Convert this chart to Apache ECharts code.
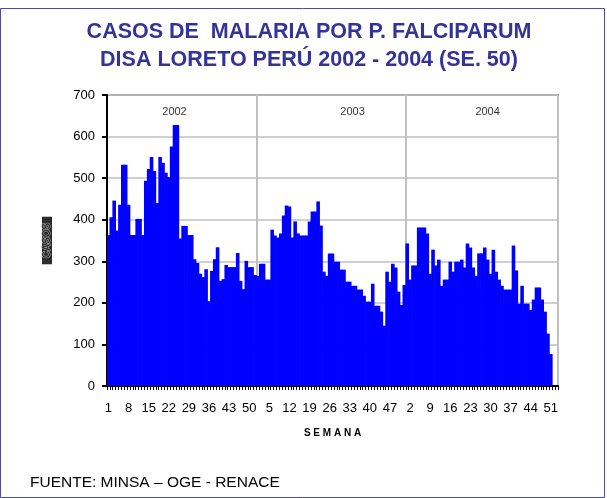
<!DOCTYPE html>
<html>
<head>
<meta charset="utf-8">
<script src="https://cdn.jsdelivr.net/npm/echarts@6/dist/echarts.min.js"></script>
<style>
  html, body { margin: 0; padding: 0; background: #fff; }
  #chart { width: 607px; height: 498px; }
</style>
</head>
<body>
<div id="chart"></div>
<script>
// casos semanales de malaria P. falciparum, DISA Loreto
var years = ["2002", "2003", "2004"];
var weeksInYear = [52, 52, 53];

var cases2002 = [363, 406, 446, 374, 436, 532, 532, 436, 363, 363, 402, 402, 363, 494, 522, 551, 517, 440, 551, 537,
  513, 503, 576, 628, 628, 355, 385, 385, 363, 363, 305, 296, 270, 262, 281, 204, 277, 305, 334, 253,
  257, 291, 286, 286, 286, 320, 253, 233, 301, 286, 286, 267];
var cases2003 = [265, 294, 294, 256, 256, 376, 362, 357, 367, 410, 434, 432, 357, 396, 367, 362, 362, 362, 396, 420,
  420, 444, 386, 275, 265, 319, 319, 299, 299, 280, 280, 251, 251, 241, 241, 232, 232, 217, 203, 203,
  246, 193, 193, 179, 145, 275, 251, 294, 285, 227, 195, 243];
var cases2004 = [343, 256, 290, 290, 381, 381, 381, 367, 270, 328, 290, 304, 241, 256, 256, 299, 275, 299, 299, 304,
  285, 343, 333, 285, 265, 319, 319, 333, 304, 270, 328, 275, 256, 241, 232, 232, 232, 338, 278, 198,
  241, 198, 198, 183, 208, 237, 237, 208, 179, 126, 77];

var yMin = 0, yMax = 700, yStep = 100;

var font = "'Liberation Sans', Arial, sans-serif";

// categorias "año-semana" y valores en orden
var categories = [];
var values = [];
var yearStart = [];
var perYear = [cases2002, cases2003, cases2004];
years.forEach(function (yr, i) {
  yearStart.push(categories.length);
  for (var w = 1; w <= weeksInYear[i]; w++) {
    categories.push(yr + "-" + w);
    var v = perYear[i][w - 1];
    values.push(v === undefined ? null : v);
  }
});

// rotulo de año dentro del area (semana donde se escribe)
var tagWeek = [24, 34, 29];
var yearTags = years.map(function (yr, i) {
  return { name: yr, value: [yearStart[i] + tagWeek[i] - 1, 660] };
});

var chart = echarts.init(document.getElementById("chart"));
chart.setOption({
  backgroundColor: "#fff",
  animation: false,
  title: {
    text: "CASOS DE  MALARIA POR P. FALCIPARUM\nDISA LORETO PERÚ 2002 - 2004 (SE. 50)",
    left: 304,
    top: 13,
    textAlign: "center",
    textStyle: {
      fontFamily: font,
      fontSize: 21.5,
      fontWeight: "bold",
      color: "#333399",
      lineHeight: 28
    }
  },
  grid: {
    left: 107,
    top: 95,
    width: 451,
    height: 291,
    show: true,
    backgroundColor: "#fff",
    borderColor: "#8c8c9c",
    borderWidth: 2
  },
  xAxis: {
    type: "category",
    data: categories,
    boundaryGap: true,
    name: "S E M A N A",
    nameLocation: "middle",
    nameGap: 42,
    nameTextStyle: {
      fontFamily: font,
      fontSize: 10,
      fontWeight: "bold",
      color: "#000"
    },
    axisLine: { lineStyle: { color: "#000", width: 2 } },
    axisTick: {
      show: true,
      interval: 0,
      length: 4,
      lineStyle: { color: "#000", width: 1 }
    },
    axisLabel: {
      interval: 6,
      margin: 16,
      hideOverlap: false,
      fontFamily: font,
      fontSize: 13,
      color: "#000",
      formatter: function (v) {
        return v.split("-")[1];
      }
    },
    splitLine: {
      show: true,
      interval: function (i) {
        return i === yearStart[1] || i === yearStart[2];
      },
      lineStyle: { color: "#c0c0c0", width: 2 }
    }
  },
  yAxis: {
    type: "value",
    min: yMin,
    max: yMax,
    interval: yStep,
    name: "CASOS",
    nameLocation: "middle",
    nameRotate: 90,
    nameGap: 55,
    nameTextStyle: {
      fontFamily: font,
      fontSize: 10,
      fontWeight: "bold",
      color: "#333",
      textBorderColor: "#aaa",
      textBorderWidth: 1,
      backgroundColor: "#2b2b2b",
      padding: [0, 6, 0, 6]
    },
    axisLine: { show: true, lineStyle: { color: "#000", width: 2 } },
    axisTick: { show: true, length: 5, lineStyle: { color: "#000", width: 2 } },
    axisLabel: {
      margin: 12,
      fontFamily: font,
      fontSize: 13,
      color: "#000"
    },
    splitLine: { show: true, lineStyle: { color: "#c0c0c0", width: 1.5 } }
  },
  series: [
    {
      name: "casos",
      type: "bar",
      data: values,
      // un poco mas ancho que la banda para que no queden rendijas
      barWidth: 3.6,
      barGap: "-100%",
      itemStyle: { color: "#0000ff" },
      silent: true
    },
    {
      name: "año",
      type: "scatter",
      data: yearTags,
      symbolSize: 0,
      silent: true,
      label: {
        show: true,
        position: "inside",
        formatter: "{b}",
        fontFamily: font,
        fontSize: 11,
        color: "#000"
      }
    }
  ],
  graphic: [
    {
      type: "rect",
      shape: { x: 0.5, y: 8.5, width: 604, height: 489 },
      style: { fill: null, stroke: "#4b4ba5", lineWidth: 1 },
      silent: true
    },
    {
      type: "text",
      left: 30,
      top: 475,
      style: {
        text: "FUENTE: MINSA – OGE - RENACE",
        fontFamily: font,
        fontSize: 15.5,
        fill: "#000"
      }
    }
  ]
});
</script>
</body>
</html>
